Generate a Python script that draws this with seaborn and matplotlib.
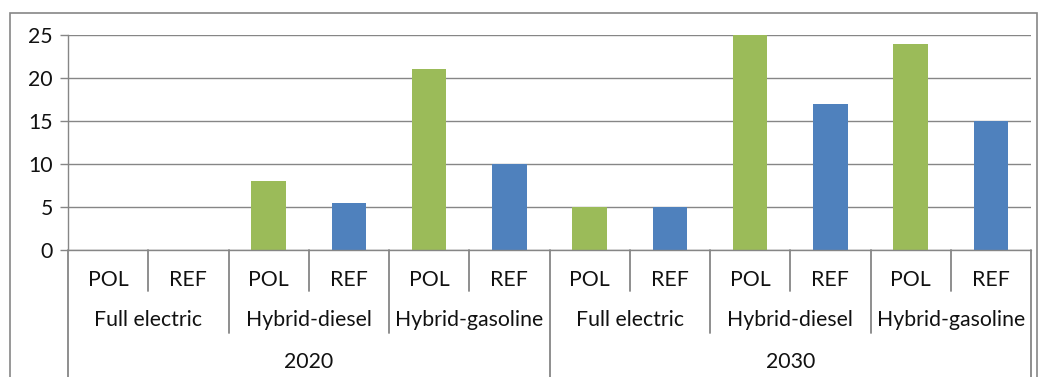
import matplotlib
matplotlib.use("Agg")
import matplotlib.pyplot as plt
import matplotlib.transforms as mtransforms
from matplotlib.patches import Rectangle
import seaborn as sns
import pandas as pd

years = ["2020", "2030"]
techs = ["Full electric", "Hybrid-diesel", "Hybrid-gasoline"]
scenarios = ["POL", "REF"]
pol_2020 = [0, 8, 21]
ref_2020 = [0, 5.5, 10]
pol_2030 = [5, 25, 24]
ref_2030 = [5, 17, 15]
y_ticks = [0, 5, 10, 15, 20, 25]

values = {("2020", "POL"): pol_2020, ("2020", "REF"): ref_2020,
          ("2030", "POL"): pol_2030, ("2030", "REF"): ref_2030}
rows = []
for y in years:
    for i, t in enumerate(techs):
        for s in scenarios:
            rows.append({"Year": y, "Tech": t, "Scenario": s,
                         "Value": values[(y, s)][i],
                         "Slot": f"{y}|{t}|{s}"})
df = pd.DataFrame(rows)
order = list(df["Slot"])

sns.set_theme(style="white")
plt.rcParams["font.family"] = ["Lato", "DejaVu Sans"]

GRID = "#868686"
FS = 15.3
TXT = "#111111"
fig = plt.figure(figsize=(10.39, 3.77), dpi=100)
ax = fig.add_axes([68 / 1039, 1 - 250 / 377, (1031 - 68) / 1039, 215 / 377])

sns.barplot(data=df, x="Slot", y="Value", hue="Scenario", order=order,
            palette={"POL": "#9BBB59", "REF": "#4F81BD"}, dodge=False,
            width=0.43, saturation=1, linewidth=0, legend=False, ax=ax,
            zorder=3)

ax.set_ylim(0, 25)
ax.set_xlim(-0.5, len(order) - 0.5)
ax.set_yticks(y_ticks)
ax.set_yticklabels([str(v) for v in y_ticks], fontsize=FS, color=TXT)
ax.yaxis.grid(True, color=GRID, linewidth=1.0, zorder=0)
ax.set_axisbelow(True)
ax.tick_params(axis="y", length=6, width=1.0, color=GRID, left=True, pad=5)
ax.set_xticks([])
ax.set_xlabel("")
ax.set_ylabel("")
for side in ["top", "right", "bottom"]:
    ax.spines[side].set_visible(False)
ax.spines["left"].set_color(GRID)
ax.spines["left"].set_linewidth(1.0)

trans = mtransforms.blended_transform_factory(ax.transData, ax.transAxes)
n = len(order)
row1_y, row2_y, row3_y = -0.1395, -0.326, -0.521
line1, line2, line3 = -0.191, -0.386, -0.60

# category labels, three levels
for k in range(n):
    ax.text(k, row1_y, order[k].split("|")[2], transform=trans,
            ha="center", va="center", fontsize=FS, color=TXT)
for g in range(len(years) * len(techs)):
    ax.text(g * 2 + 0.5, row2_y, techs[g % len(techs)], transform=trans,
            ha="center", va="center", fontsize=FS, color=TXT)
for yi, yr in enumerate(years):
    ax.text(yi * 6 + 2.5, row3_y, yr, transform=trans,
            ha="center", va="center", fontsize=FS, color=TXT)

# category separators
for b in range(n + 1):
    xb = b - 0.5
    if b % 6 == 0:
        yb = line3
    elif b % 2 == 0:
        yb = line2
    else:
        yb = line1
    ax.plot([xb, xb], [0, yb], transform=trans, color=GRID, linewidth=1.3,
            clip_on=False, zorder=1)
ax.plot([-0.5, n - 0.5], [0, 0], transform=trans, color=GRID, linewidth=1.0,
        clip_on=False, zorder=4)

# outer chart border
fig.patches.append(Rectangle((10 / 1039, -0.05), (1037 - 10) / 1039,
                             1 - 13 / 377 + 0.05, transform=fig.transFigure,
                             fill=False, edgecolor=GRID, linewidth=1.2))

fig.savefig("out.png", dpi=100)
